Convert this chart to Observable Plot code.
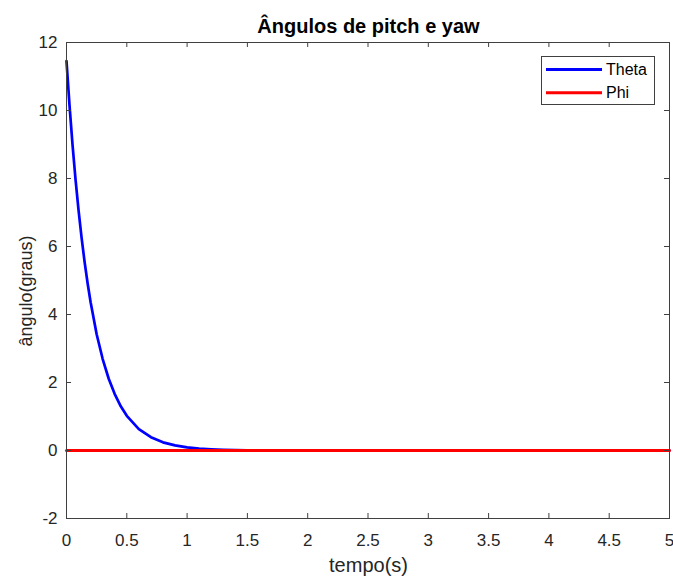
<!DOCTYPE html>
<html><head><meta charset="utf-8">
<script src="https://cdn.jsdelivr.net/npm/d3@7"></script>
<script src="https://cdn.jsdelivr.net/npm/@observablehq/plot@0.6"></script>
<style>
body{margin:0;background:#fff;}
#chart{position:relative;width:673px;height:577px;}
</style>
</head><body><div id="chart"></div>
<script>
const titleText = "Ângulos de pitch e yaw";
const xLabel = "tempo(s)";
const yLabel = "ângulo(graus)";
const seriesNames = ["Theta", "Phi"];
const seriesColors = ["#0000ff", "#ff0000"];
const xTicks = [0, 0.5, 1, 1.5, 2, 2.5, 3, 3.5, 4, 4.5, 5];
const yTicks = [-2, 0, 2, 4, 6, 8, 10, 12];

// Theta
const thetaT = [0, 0.025, 0.05, 0.075, 0.1, 0.125, 0.15, 0.175, 0.2, 0.25, 0.3, 0.35, 0.4, 0.45, 0.5, 0.6, 0.7, 0.8, 0.9, 1.0, 1.1, 1.2, 1.3, 1.4, 1.5, 1.6, 2, 3, 4, 5];
const thetaV = [11.45, 10.15, 8.99, 7.97, 7.06, 6.26, 5.55, 4.92, 4.36, 3.42, 2.69, 2.11, 1.66, 1.30, 1.02, 0.63, 0.39, 0.24, 0.15, 0.09, 0.056, 0.035, 0.021, 0.013, 0.008, 0.005, 0.0, 0.0, 0.0, 0.0];
// Phi
const phiT = [0, 5];
const phiV = [0, 0];

const theta = thetaT.map((t, i) => ({t, v: thetaV[i]}));
const phi = phiT.map((t, i) => ({t, v: phiV[i]}));

const W = 673, H = 577;
const mL = 66, mR = 4, mT = 42, mB = 59;
const innerH = H - mT - mB, innerW = W - mL - mR;
const axisColor = "#404040";
const textColor = "#262626";
const tk = 5;
const font = "'Liberation Sans', Arial, Helvetica, sans-serif";

const plot = Plot.plot({
  width: W, height: H,
  marginLeft: mL, marginRight: mR, marginTop: mT, marginBottom: mB,
  style: {fontFamily: font, background: "#fff", color: textColor},
  x: {domain: [0, 5], ticks: xTicks, tickFormat: d => String(d)},
  y: {domain: [-2, 12], ticks: yTicks, tickFormat: d => String(d)},
  marks: [
    Plot.axisX({ticks: xTicks, tickSize: 0, tickPadding: 15, fontSize: 17, label: null, tickFormat: d => String(d), fill: textColor}),
    Plot.axisY({ticks: yTicks, tickSize: 0, tickPadding: 9, fontSize: 17, label: null, tickFormat: d => String(d), fill: textColor}),
    Plot.line(theta, {x: "t", y: "v", stroke: seriesColors[0], strokeWidth: 2.7}),
    Plot.line(phi, {x: "t", y: "v", stroke: seriesColors[1], strokeWidth: 3}),
    Plot.tickX(xTicks, {x: d => d, insetTop: innerH - tk, stroke: axisColor}),
    Plot.tickX(xTicks, {x: d => d, insetBottom: innerH - tk, stroke: axisColor}),
    Plot.tickY(yTicks, {y: d => d, insetRight: innerW - tk, stroke: axisColor}),
    Plot.tickY(yTicks, {y: d => d, insetLeft: innerW - tk, stroke: axisColor}),
    Plot.frame({stroke: axisColor, strokeWidth: 1})
  ]
});

const svg = d3.select(plot);
// title & labels
svg.append("text").attr("x", mL + innerW / 2 + 1).attr("y", 33)
  .attr("text-anchor", "middle").attr("font-size", 20).attr("font-weight", "bold")
  .attr("font-family", font).attr("fill", "#000").text(titleText);
svg.append("text").attr("x", mL + innerW / 2 + 1).attr("y", 572)
  .attr("text-anchor", "middle").attr("font-size", 20).attr("font-family", font)
  .attr("fill", textColor).text(xLabel);
svg.append("text").attr("transform", `translate(32,291) rotate(-90)`)
  .attr("text-anchor", "middle").attr("font-size", 18).attr("font-family", font)
  .attr("fill", textColor).text(yLabel);

// legend
const lg = svg.append("g").attr("transform", "translate(541,56)");
lg.append("rect").attr("x", 0.5).attr("y", 0.5).attr("width", 113).attr("height", 48)
  .attr("fill", "#fff").attr("stroke", axisColor).attr("stroke-width", 1);
seriesNames.forEach((name, i) => {
  const yy = 13.5 + i * 23.3;
  lg.append("line").attr("x1", 5).attr("x2", 61).attr("y1", yy).attr("y2", yy)
    .attr("stroke", seriesColors[i]).attr("stroke-width", 3);
  lg.append("text").attr("x", 65).attr("y", yy + 5.5).attr("font-size", 16)
    .attr("text-anchor", "start").attr("font-family", font)
    .attr("fill", "#000").text(name);
});

document.getElementById("chart").appendChild(plot);
</script>
</body></html>
